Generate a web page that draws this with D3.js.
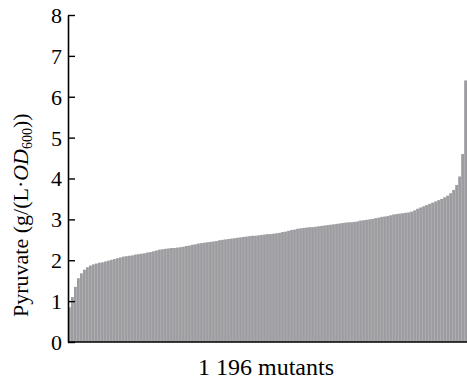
<html lang="en">
<head>
    <title>Pyruvate of mutants</title>
    <meta charset="utf-8">
    <script src="https://cdn.jsdelivr.net/npm/d3@7"></script>
</head>

<body style="margin: 0; background: #ffffff;"></body>

<script type="text/javascript">

    //****************************************************************************************************************************//
    //	Data (mutants sorted by pyruvate)

    const pyruvate = [
        0.85, 1.10, 1.35, 1.56, 1.68, 1.77, 1.83, 1.87, 1.90, 1.92,
        1.94, 1.95, 1.97, 1.99, 2.01, 2.03, 2.05, 2.07, 2.09, 2.10,
        2.11, 2.12, 2.14, 2.15, 2.16, 2.17, 2.19, 2.20, 2.22, 2.24,
        2.26, 2.27, 2.28, 2.29, 2.30, 2.30, 2.31, 2.32, 2.33, 2.35,
        2.36, 2.38, 2.39, 2.41, 2.42, 2.43, 2.44, 2.45, 2.46, 2.47,
        2.49, 2.50, 2.51, 2.52, 2.53, 2.54, 2.55, 2.56, 2.57, 2.58,
        2.59, 2.60, 2.60, 2.61, 2.62, 2.63, 2.64, 2.64, 2.65, 2.66,
        2.67, 2.69, 2.70, 2.72, 2.74, 2.75, 2.77, 2.78, 2.79, 2.80,
        2.81, 2.81, 2.82, 2.83, 2.84, 2.85, 2.86, 2.87, 2.88, 2.89,
        2.90, 2.91, 2.92, 2.93, 2.93, 2.94, 2.95, 2.97, 2.98, 2.99,
        3.00, 3.01, 3.03, 3.04, 3.06, 3.07, 3.08, 3.10, 3.12, 3.13,
        3.14, 3.15, 3.16, 3.17, 3.19, 3.22, 3.26, 3.29, 3.32, 3.35,
        3.38, 3.41, 3.44, 3.47, 3.50, 3.54, 3.58, 3.64, 3.72, 3.84,
        4.05, 4.60, 6.40
    ];
    const yTicks = [0, 1, 2, 3, 4, 5, 6, 7, 8];
    const xLabel = "1 196 mutants";

    //****************************************************************************************************************************//
    //	Svg and scales

    const width = 467, height = 379;
    const plotLeft = 68, plotRight = 467, plotTop = 15, plotBottom = 342;
    const serif = "Liberation Serif";

    const svg = d3.select("body")
        .append("svg")
        .attr("width", width)
        .attr("height", height);

    const x = d3.scaleBand()
        .domain(pyruvate.map((d, i) => i))
        .range([plotLeft, plotRight])
        .paddingInner(0.06)
        .paddingOuter(0);

    const y = d3.scaleLinear()
        .domain([0, 8])
        .range([plotBottom, plotTop]);

    //****************************************************************************************************************************//
    //	Bars

    svg.append("g")
        .selectAll("rect")
        .data(pyruvate)
        .join("rect")
        .attr("x", (d, i) => x(i))
        .attr("y", d => y(d))
        .attr("width", x.bandwidth())
        .attr("height", d => y(0) - y(d))
        .attr("fill", "#9d9da1");

    //****************************************************************************************************************************//
    //	Axes

    const yAxis = svg.append("g")
        .attr("transform", `translate(${plotLeft},0)`)
        .call(d3.axisLeft(y).tickValues(yTicks).tickSizeInner(-7).tickSizeOuter(0).tickPadding(6));

    yAxis.attr("font-family", serif).attr("font-size", 22);
    yAxis.select(".domain").attr("stroke", "#000").attr("stroke-width", 1.6);
    yAxis.selectAll(".tick line").attr("stroke", "#000").attr("stroke-width", 1.4);
    yAxis.selectAll(".tick text")
        .attr("fill", "#000")
        .attr("dy", "0.34em");

    svg.append("line")
        .attr("x1", plotLeft)
        .attr("x2", plotRight)
        .attr("y1", y(0))
        .attr("y2", y(0))
        .attr("stroke", "#000")
        .attr("stroke-width", 1.6);

    //****************************************************************************************************************************//
    //	Labels

    svg.append("text")
        .attr("x", 266)
        .attr("y", 375)
        .attr("text-anchor", "middle")
        .attr("font-family", serif)
        .attr("font-size", 24)
        .text(xLabel);

    const yLabel = svg.append("text")
        .attr("transform", "translate(28,317) rotate(-90)")
        .attr("text-anchor", "start")
        .attr("font-family", serif)
        .attr("font-size", 22);

    yLabel.append("tspan").text("Pyruvate (g/(L\u00b7");
    yLabel.append("tspan").attr("font-style", "italic").text("OD");
    yLabel.append("tspan").attr("font-size", 14).attr("dy", 4).text("600");
    yLabel.append("tspan").attr("dy", -4).text("))");

</script>
</html>
